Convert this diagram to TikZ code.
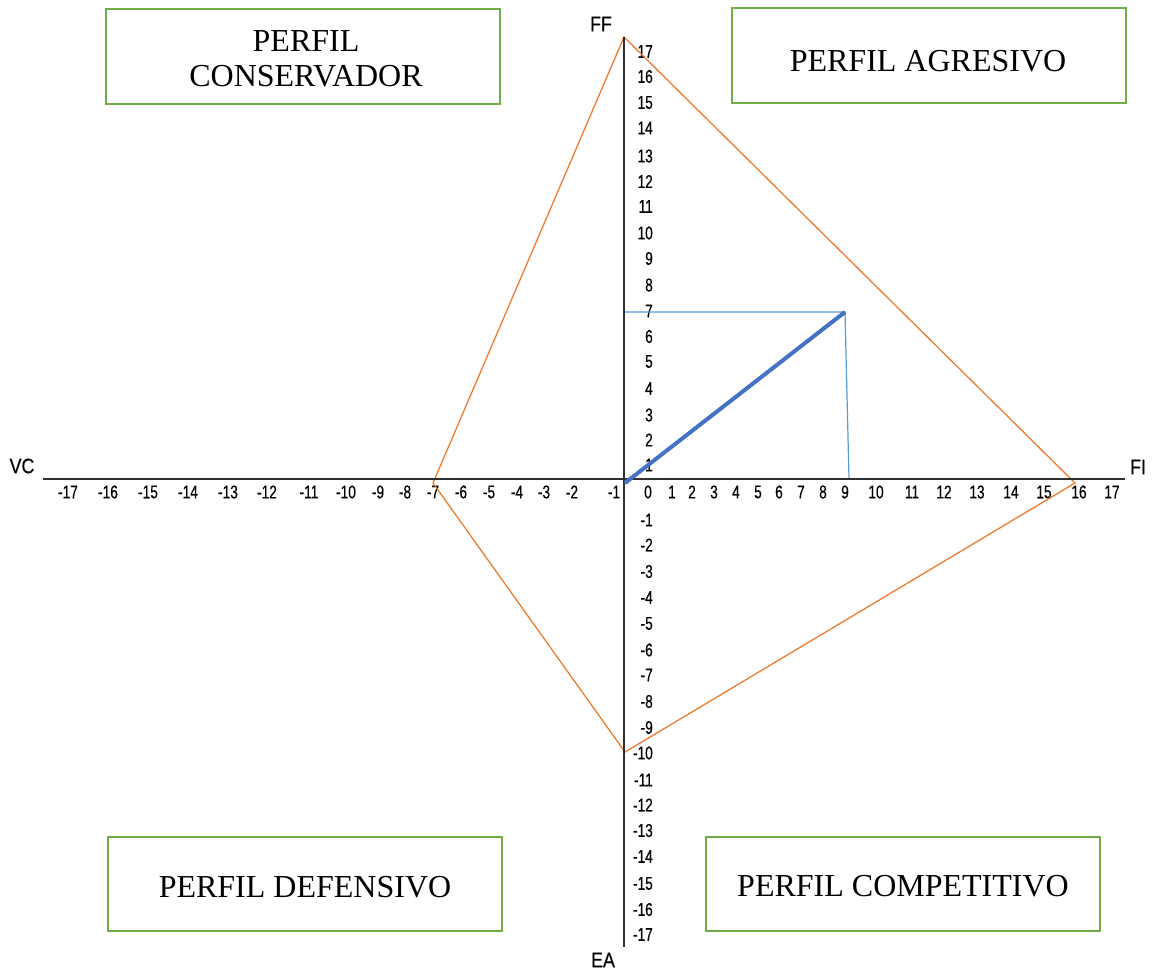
\documentclass[tikz,border=0pt]{standalone}
\usepackage{fontspec}
\setmainfont{Liberation Serif}
\newfontfamily\axf[FakeStretch=0.74,FakeBold=0.4]{Liberation Sans}
\newfontfamily\axt[FakeStretch=0.85,FakeBold=0.3]{Liberation Sans}
\definecolor{boxgreen}{HTML}{70AD47}
\definecolor{polyorange}{HTML}{ED7D31}
\definecolor{thinblue}{HTML}{5B9BD5}
\definecolor{thickblue}{HTML}{4472C4}
\definecolor{axisgray}{HTML}{303030}
\tikzset{
  profiletext/.style={font=\fontsize{32}{35}\selectfont, align=center, inner sep=0pt},
  ticklab/.style={font=\axf\fontsize{18.5}{18.5}\selectfont, inner sep=0pt},
  axtitle/.style={font=\axt\fontsize{21}{21}\selectfont, inner sep=0pt},
  axisline/.style={draw=axisgray, line width=2.2pt},
  polyline/.style={draw=polyorange, line width=1.3pt, line join=miter},
  thinline/.style={draw=thinblue, line width=1.2pt},
  thickline/.style={draw=thickblue, line width=4pt},
  greenframe/.style={draw=boxgreen, line width=2.5pt}
}
\begin{document}
\begin{tikzpicture}[x=1pt,y=-1pt]
\useasboundingbox (0,0) rectangle (1154,971);
\fill[white] (0,0) rectangle (1154,971);

% profile boxes
\draw[greenframe] (106,9) rectangle (500,104);
\draw[greenframe] (732,8) rectangle (1126,103);
\draw[greenframe] (108,837) rectangle (502,931);
\draw[greenframe] (706,837) rectangle (1100,931);
\node[profiletext] (cons) at (306,59) {PERFIL\\CONSERVADOR};
\node[profiletext] (agr) at (928,61) {PERFIL AGRESIVO};
\node[profiletext] (def) at (305,887) {PERFIL DEFENSIVO};
\node[profiletext] (comp) at (903,886) {PERFIL COMPETITIVO};

% axis titles
\node[axtitle] (ff) at (601,24) {FF};
\node[axtitle] (vc) at (22,466) {VC};
\node[axtitle] (fi) at (1138,467) {FI};
\node[axtitle] (ea) at (603,960) {EA};

% tick labels horizontal
\foreach \k/\xx in {-17/68,-16/108,-15/148,-14/188,-13/228,-12/267,-11/309,-10/346,-9/378,-8/405,-7/433,-6/461,-5/489,-4/517,-3/544,-2/572,-1/614,0/648,1/672,2/692,3/714,4/736,5/758,6/779,7/801,8/823,9/845,10/876,11/912,12/944,13/977,14/1011,15/1044,16/1079,17/1112}
  \node[ticklab] (h\k) at (\xx,492) {\k};
% tick labels vertical
\foreach \k/\yy in {17/51.5,16/76.5,15/102.5,14/128,13/156,12/181.5,11/206.5,10/233,9/258.5,8/285,7/311,6/336.5,5/361.5,4/388.5,3/415,2/440,1/465,-1/520,-2/545,-3/571.5,-4/597.5,-5/623.5,-6/650,-7/675,-8/701.5,-9/727.5,-10/753,-11/780,-12/805,-13/830.5,-14/856.5,-15/883.5,-16/909.5,-17/934.5}
  \node[ticklab, anchor=east] (v\k) at (653,\yy) {\k};

% coordinates
\coordinate (top) at (624,37);
\coordinate (right) at (1075,483);
\coordinate (bottom) at (625,752);
\coordinate (left) at (433,483);
\coordinate (origin) at (625,483);
\coordinate (pt) at (845,312);
\coordinate (ay) at (624,312);
\coordinate (ax) at (849,479);
\coordinate (xl) at (43,479);
\coordinate (xr) at (1125,479);
\coordinate (yt) at (624,37);
\coordinate (yb) at (624,947);

% orange polygon
\draw[polyline] (top) -- (right) -- (bottom) -- (left) -- cycle;
% thin blue projections
\draw[thinline] (ay) -- (pt) -- (ax);
% axes
\draw[axisline] (xl) -- (xr);
\draw[axisline] (yt) -- (yb);
% thick blue vector
\draw[thickline] (origin) -- (pt);
\end{tikzpicture}
\end{document}
